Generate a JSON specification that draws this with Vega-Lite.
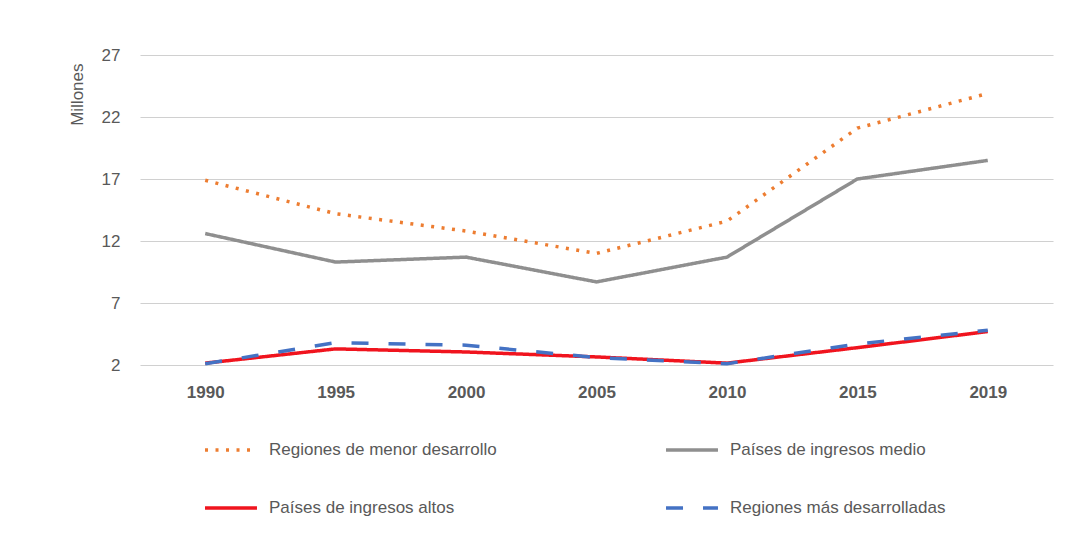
{
  "$schema": "https://vega.github.io/schema/vega-lite/v6.json",
  "width": 913,
  "height": 310,
  "autosize": {"type": "none"},
  "padding": {"left": 140, "top": 55, "right": 14, "bottom": 177},
  "background": "white",
  "config": {
    "view": {"stroke": null},
    "font": "Liberation Sans, sans-serif"
  },
  "data": {
    "values": [
      {"year": "1990", "serie": "Regiones de menor desarrollo", "value": 16.9},
      {"year": "1995", "serie": "Regiones de menor desarrollo", "value": 14.2},
      {"year": "2000", "serie": "Regiones de menor desarrollo", "value": 12.8},
      {"year": "2005", "serie": "Regiones de menor desarrollo", "value": 11.0},
      {"year": "2010", "serie": "Regiones de menor desarrollo", "value": 13.6},
      {"year": "2015", "serie": "Regiones de menor desarrollo", "value": 21.1},
      {"year": "2019", "serie": "Regiones de menor desarrollo", "value": 23.9},
      {"year": "1990", "serie": "Países de ingresos medio", "value": 12.6},
      {"year": "1995", "serie": "Países de ingresos medio", "value": 10.3},
      {"year": "2000", "serie": "Países de ingresos medio", "value": 10.7},
      {"year": "2005", "serie": "Países de ingresos medio", "value": 8.7},
      {"year": "2010", "serie": "Países de ingresos medio", "value": 10.7},
      {"year": "2015", "serie": "Países de ingresos medio", "value": 17.0},
      {"year": "2019", "serie": "Países de ingresos medio", "value": 18.5},
      {"year": "1990", "serie": "Países de ingresos altos", "value": 2.15},
      {"year": "1995", "serie": "Países de ingresos altos", "value": 3.3},
      {"year": "2000", "serie": "Países de ingresos altos", "value": 3.05},
      {"year": "2005", "serie": "Países de ingresos altos", "value": 2.65},
      {"year": "2010", "serie": "Países de ingresos altos", "value": 2.15},
      {"year": "2015", "serie": "Países de ingresos altos", "value": 3.4},
      {"year": "2019", "serie": "Países de ingresos altos", "value": 4.7},
      {"year": "1990", "serie": "Regiones más desarrolladas", "value": 2.1},
      {"year": "1995", "serie": "Regiones más desarrolladas", "value": 3.8},
      {"year": "2000", "serie": "Regiones más desarrolladas", "value": 3.6},
      {"year": "2005", "serie": "Regiones más desarrolladas", "value": 2.6},
      {"year": "2010", "serie": "Regiones más desarrolladas", "value": 2.1},
      {"year": "2015", "serie": "Regiones más desarrolladas", "value": 3.7},
      {"year": "2019", "serie": "Regiones más desarrolladas", "value": 4.8}
    ]
  },
  "mark": {"type": "line", "strokeWidth": 3.5},
  "encoding": {
    "x": {
      "field": "year",
      "type": "ordinal",
      "scale": {"type": "point", "padding": 0.5},
      "axis": {
        "title": null,
        "labelAngle": 0,
        "ticks": false,
        "domain": false,
        "grid": false,
        "labelPadding": 19,
        "labelFontSize": 17,
        "labelFontWeight": "bold",
        "labelColor": "#595959"
      }
    },
    "y": {
      "field": "value",
      "type": "quantitative",
      "scale": {"domain": [2, 27], "nice": false, "zero": false},
      "axis": {
        "values": [2, 7, 12, 17, 22, 27],
        "title": "Millones",
        "titleAngle": -90,
        "titleX": -63,
        "titleY": 8,
        "titleAlign": "right",
        "titleBaseline": "middle",
        "titleFontSize": 17,
        "titleFontWeight": "normal",
        "titleColor": "#595959",
        "ticks": false,
        "domain": false,
        "labelPadding": 20,
        "labelFontSize": 17,
        "labelFontWeight": "normal",
        "labelColor": "#595959",
        "gridColor": "#d0d0d0",
        "gridWidth": 1.2
      }
    },
    "color": {
      "field": "serie",
      "type": "nominal",
      "scale": {
        "domain": ["Regiones de menor desarrollo", "Países de ingresos medio", "Países de ingresos altos", "Regiones más desarrolladas"],
        "range": ["#ED7D31", "#8f8f8f", "#F0141E", "#4472C4"]
      },
      "legend": {
        "title": null,
        "orient": "none",
        "legendX": 63,
        "legendY": 367,
        "direction": "horizontal",
        "columns": 2,
        "columnPadding": 162,
        "rowPadding": 22,
        "symbolType": "stroke",
        "symbolSize": 2700,
        "symbolStrokeWidth": 3.5,
        "labelFontSize": 17,
        "labelColor": "#595959",
        "labelOffset": 10,
        "labelLimit": 400
      }
    },
    "strokeDash": {
      "field": "serie",
      "type": "nominal",
      "scale": {
        "domain": ["Regiones de menor desarrollo", "Países de ingresos medio", "Países de ingresos altos", "Regiones más desarrolladas"],
        "range": [[3, 7.5], [1, 0], [1, 0], [17, 20]]
      }
    }
  }
}
